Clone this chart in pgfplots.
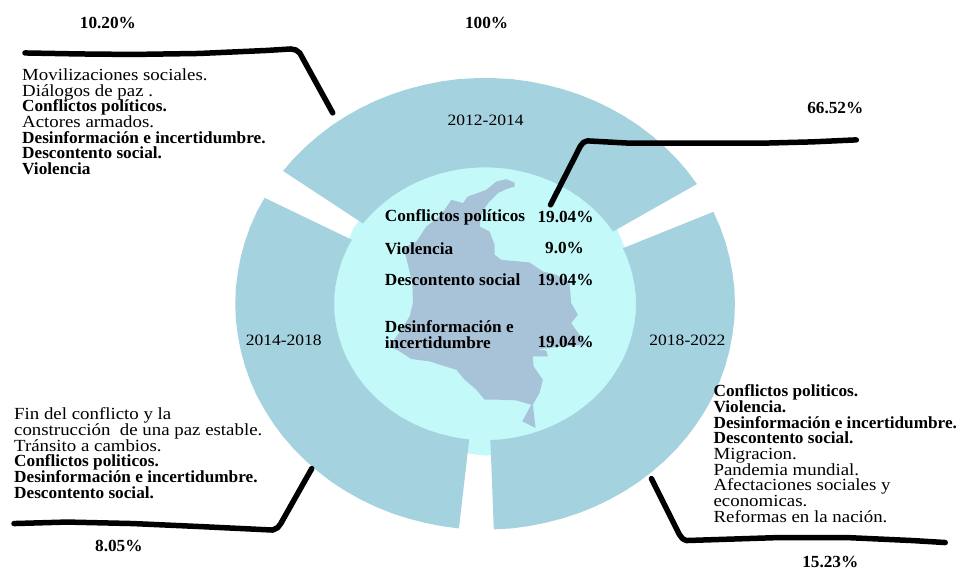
\documentclass[border=0pt]{standalone}
\usepackage{fontspec}
\setmainfont[FakeStretch=1.11, BoldFeatures={FakeStretch=1.015}]{Liberation Serif}
\usepackage{pgfplots}
\pgfplotsset{compat=1.18}

\definecolor{ring}{HTML}{A5D2DF}
\definecolor{disc}{HTML}{C3F9F8}
\definecolor{mapa}{HTML}{A8C2D8}

\newcommand{\blockfont}{\fontsize{17}{15.7}\selectfont}

\begin{document}
\begin{tikzpicture}
\begin{axis}[
    scale only axis,
    width=957pt,
    height=567pt,
    xmin=0, xmax=957,
    ymin=0, ymax=567,
    y dir=reverse,
    hide axis,
    clip=false,
]
% keep the page as large as the axis
\path (axis cs:0,0) rectangle (axis cs:957,567);

% inner disc
\addplot[fill=disc, draw=none] coordinates {
    (637.5,304) (632.3,264.7) (617.1,228) (593,196.5) (561.5,172.4) (524.8,157.2)
    (485.5,152) (446.2,157.2) (409.5,172.4) (378,196.5) (353.9,228) (338.7,264.7)
    (333.5,304) (338.7,343.3) (353.9,380) (378,411.5) (409.5,435.6) (446.2,450.8)
    (485.5,456) (524.8,450.8) (561.5,435.6) (593,411.5) (617.1,380) (632.3,343.3)
} -- cycle;

% 2012-2014
\addplot[fill=ring, draw=none] coordinates {
    (697.5,184.2) (687.8,171.1) (677.0,158.7) (665.3,146.9) (652.8,136.1) (639.5,125.9)
    (625.3,116.6) (610.5,108.3) (595.0,100.8) (579.3,94.5) (562.8,89.1) (546.0,84.8)
    (529.0,81.4) (511.8,79.1) (494.2,78.2) (476.8,78.2) (459.3,79.1) (442.0,81.4)
    (425.0,84.8) (408.3,89.1) (391.8,94.5) (376.0,100.8) (360.5,108.3) (345.8,116.6)
    (331.5,125.9) (318.3,136.1) (305.8,146.9) (294.0,158.7) (283.3,171.1)
    (363.3,223.7) (369.8,216.2) (376.9,209.1) (384.5,202.6) (392.5,196.4) (401.1,190.8)
    (410.0,185.8) (419.4,181.3) (428.9,177.5) (438.8,174.2) (449.0,171.6) (459.2,169.5)
    (469.6,168.2) (480.2,167.6) (490.8,167.6) (501.4,168.2) (511.8,169.5) (522.0,171.6)
    (532.2,174.2) (542.1,177.5) (551.6,181.3) (561.0,185.8) (569.9,190.8) (578.5,196.4)
    (586.5,202.6) (594.1,209.1) (601.2,216.2) (607.7,223.7) (613.5,231.7)
} -- cycle;

% 2014-2018
\addplot[fill=ring, draw=none] coordinates {
    (264.8,198.0) (257.0,212.0) (250.5,226.7) (245.2,241.6) (241.0,257.0) (238.0,272.6)
    (236.0,288.2) (235.5,304) (236.0,319.8) (238.0,335.4) (241.0,351.0) (245.2,366.4)
    (250.5,381.3) (257.0,396.0) (264.8,410.0) (273.5,423.8) (283.3,436.9) (294.0,449.3)
    (305.8,461.1) (318.3,471.9) (331.5,482.1) (345.8,491.4) (360.5,499.7) (376.0,507.2)
    (391.8,513.5) (408.3,518.9) (425.0,523.2) (442.0,526.6) (459.3,528.9)
    (469.6,439.8) (459.2,438.5) (449.0,436.4) (438.8,433.8) (428.9,430.5) (419.4,426.7)
    (410.0,422.2) (401.1,417.2) (392.5,411.6) (384.5,405.4) (376.9,398.9) (369.8,391.8)
    (363.3,384.3) (357.5,376.3) (352.2,368.0) (347.5,359.6) (343.6,350.7) (340.4,341.7)
    (337.8,332.4) (336.0,323.0) (334.8,313.6) (334.5,304) (334.8,294.4) (336.0,285.0)
    (337.8,275.6) (340.4,266.3) (343.6,257.3) (347.5,248.4) (352.2,240.0)
} -- cycle;

% 2018-2022
\addplot[fill=ring, draw=none] coordinates {
    (714.0,212.0) (720.5,226.7) (725.8,241.6) (730.0,257.0) (733.0,272.6) (735.0,288.2)
    (735.5,304.0) (735.0,319.8) (733.0,335.4) (730.0,351.0) (725.8,366.4) (720.5,381.3)
    (714.0,396.0) (706.3,410.0) (697.5,423.8) (687.8,436.9) (677.0,449.3) (665.3,461.1)
    (652.8,471.9) (639.5,482.1) (625.3,491.4) (610.5,499.7) (595.0,507.2) (579.3,513.5)
    (562.8,518.9) (546.0,523.2) (529.0,526.6) (511.8,528.9) (494.2,529.8)
    (490.8,440.4) (501.4,439.8) (511.8,438.5) (522.0,436.4) (532.2,433.8) (542.1,430.5)
    (551.6,426.7) (561.0,422.2) (569.9,417.2) (578.5,411.6) (586.5,405.4) (594.1,398.9)
    (601.2,391.8) (607.7,384.3) (613.5,376.3) (618.8,368.0) (623.5,359.6) (627.4,350.7)
    (630.6,341.7) (633.2,332.4) (635.0,323.0) (636.2,313.6) (636.5,304.0) (636.2,294.4)
    (635.0,285.0) (633.2,275.6) (630.6,266.3) (627.4,257.3) (623.5,248.4)
} -- cycle;

% map of Colombia
\addplot[fill=mapa, draw=none] coordinates {
    (506.7,179.3) (515,182.7) (515,186.7) (506.7,189.3) (498.3,193.3) (490,201.7)
    (485,208.3) (481.7,215) (480,226.7) (490,231.7) (495,245) (495,255) (501.7,260)
    (530,262.7) (543.3,271.7) (556.7,275) (570,283.3) (571.7,303.3) (578.3,315)
    (571.7,323.3) (586.7,345) (563.3,346.7) (536.7,350) (546.7,350.7) (548.3,356.7)
    (533.3,356.7) (534,366.7) (543.3,380) (540,393.3) (533.3,405) (536,428.3)
    (522.7,421.7) (531.7,405) (516.7,400.7) (498.3,400) (485,400) (476.7,390)
    (465,380) (456.7,370) (443.3,366) (430,361.7) (411.7,359.3) (400,351.7)
    (390,346.7) (401.7,330) (410,316.7) (413.3,303.3) (412.7,283.3) (406.7,258.3)
    (404,248.3) (416.7,241.7) (426.7,226.7) (441.7,215) (451.7,200) (463.3,203.3)
    (468.3,196.7) (486.7,190) (496.7,181.7)
} -- cycle;

% callout strokes
\addplot[black, line width=5.5pt, line cap=round, line join=round] coordinates {
    (25,53) (80,54) (133,54.5) (200,53.5) (267,50.5) (291,49) (296,50) (300,53) (333,113)};
\addplot[black, line width=5.5pt, line cap=round, line join=round] coordinates {
    (551,205) (581,146) (584,142.5) (588,141) (630,143.3) (697,143.3) (763,143.3) (813,142) (857,140)};
\addplot[black, line width=5.5pt, line cap=round, line join=round] coordinates {
    (312,469) (281,524) (278,528) (273,530.5) (200,527) (133,524) (67,522.5) (14,524)};
\addplot[black, line width=5.5pt, line cap=round, line join=round] coordinates {
    (652,479) (680,535) (683,539) (687,541) (780,538) (847,538) (913,541) (946,543)};

% percentages
\node[font=\bfseries\fontsize{17}{17}\selectfont] at (axis cs:108,23) {10.20\%};
\node[font=\bfseries\fontsize{17}{17}\selectfont] at (axis cs:487,23) {100\%};
\node[font=\bfseries\fontsize{17}{17}\selectfont] at (axis cs:836,108) {66.52\%};
\node[font=\bfseries\fontsize{17}{17}\selectfont] at (axis cs:119,546) {8.05\%};
\node[font=\bfseries\fontsize{17}{17}\selectfont] at (axis cs:831,562) {15.23\%};

% period labels
\node[font=\fontsize{15.8}{15.8}\selectfont] at (axis cs:486,120) {2012-2014};
\node[font=\fontsize{15.8}{15.8}\selectfont] at (axis cs:284,341) {2014-2018};
\node[font=\fontsize{15.8}{15.8}\selectfont] at (axis cs:688,341) {2018-2022};

% centre table
\node[anchor=west, inner sep=0, font=\bfseries\fontsize{17}{17}\selectfont] at (axis cs:385,218) {Conflictos políticos};
\node[anchor=west, inner sep=0, font=\bfseries\fontsize{17}{17}\selectfont] at (axis cs:385,248.5) {Violencia};
\node[anchor=west, inner sep=0, font=\bfseries\fontsize{17}{17}\selectfont] at (axis cs:385,280) {Descontento social};
\node[anchor=west, inner sep=0, align=left, font=\bfseries\fontsize{17}{15.5}\selectfont] at (axis cs:385,335) {Desinformación e\\incertidumbre};
\node[font=\bfseries\fontsize{17}{17}\selectfont] at (axis cs:566,217.5) {19.04\%};
\node[font=\bfseries\fontsize{17}{17}\selectfont] at (axis cs:565,248.5) {9.0\%};
\node[font=\bfseries\fontsize{17}{17}\selectfont] at (axis cs:566,280.5) {19.04\%};
\node[font=\bfseries\fontsize{17}{17}\selectfont] at (axis cs:566,342.5) {19.04\%};

% text blocks
\node[anchor=north west, inner sep=0, align=left, font=\blockfont] at (axis cs:22,68.5) {%
    Movilizaciones sociales.\\
    Diálogos de paz .\\
    \textbf{Conflictos políticos.}\\
    Actores armados.\\
    \textbf{Desinformación e incertidumbre.}\\
    \textbf{Descontento social.}\\
    \textbf{Violencia}};
\node[anchor=north west, inner sep=0, align=left, font=\blockfont] at (axis cs:14,408) {%
    Fin del conflicto y la\\
    construcción\ \ de una paz estable.\\
    Tránsito a cambios.\\
    \textbf{Conflictos politicos.}\\
    \textbf{Desinformación e incertidumbre.}\\
    \textbf{Descontento social.}};
\node[anchor=north west, inner sep=0, align=left, font=\blockfont] at (axis cs:714,385) {%
    \textbf{Conflictos politicos.}\\
    \textbf{Violencia.}\\
    \textbf{Desinformación e incertidumbre.}\\
    \textbf{Descontento social.}\\
    Migracion.\\
    Pandemia mundial.\\
    Afectaciones sociales y\\
    economicas.\\
    Reformas en la nación.};
\end{axis}
\end{tikzpicture}
\end{document}
